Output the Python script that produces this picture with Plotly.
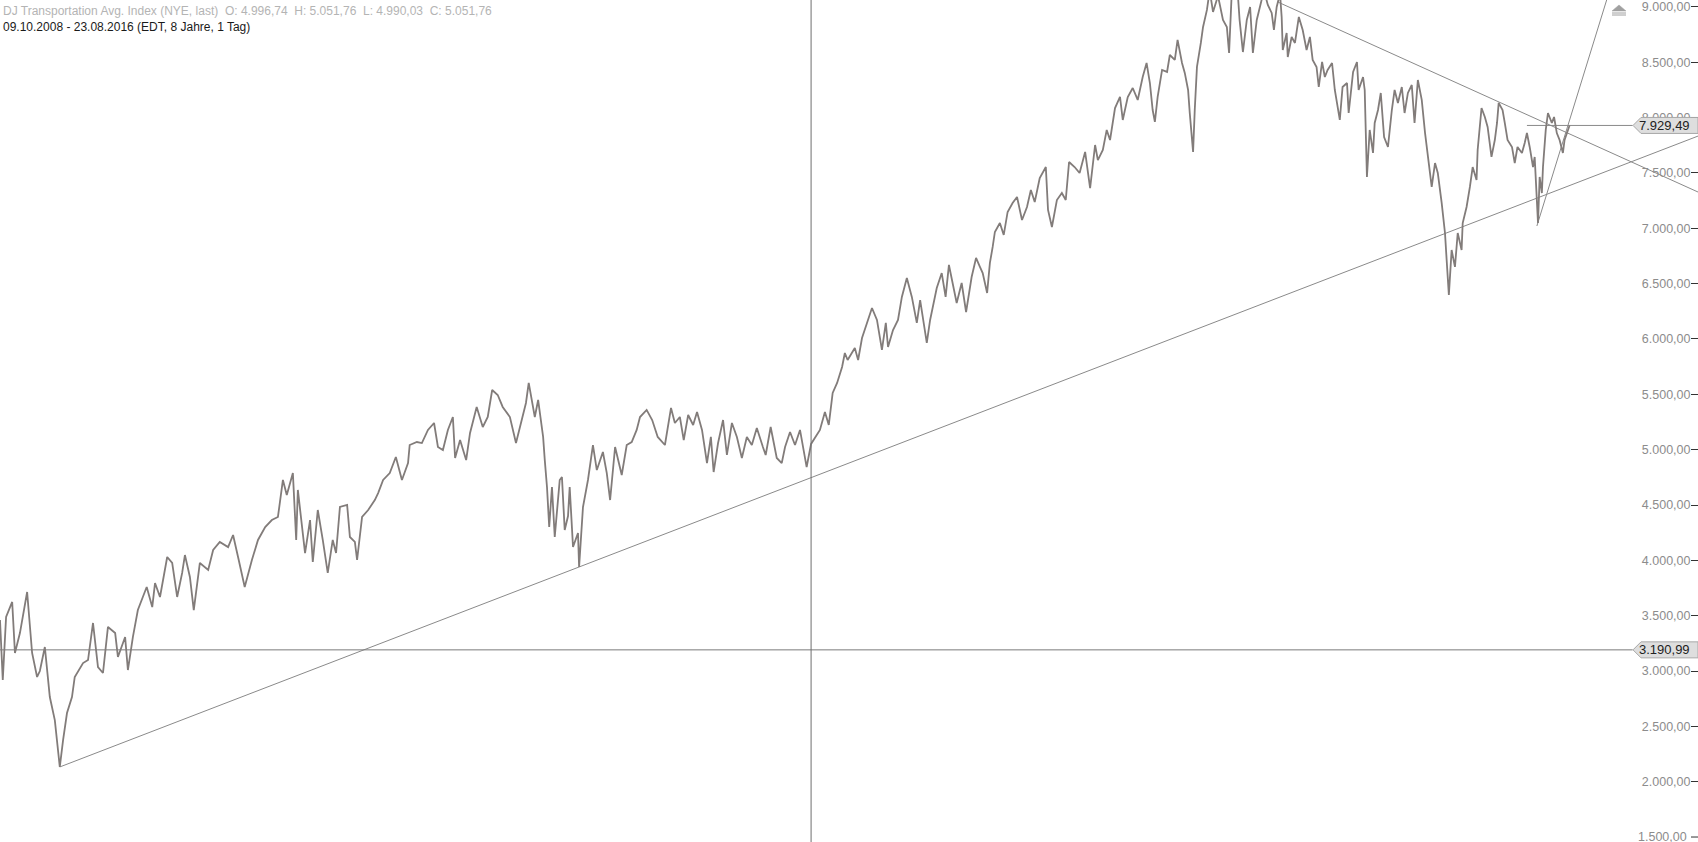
import pandas as pd
import plotly.graph_objects as go

# ---------------- data ----------------
base_date = "2008-11-18"
day_offsets = [0, 5, 11, 22, 27, 36, 49, 58, 67, 72, 81, 90, 99, 108, 114, 121, 130, 135, 150, 159, 168, 177, 186, 195, 208, 213, 226, 231, 240, 249, 258, 265, 275, 280, 289, 302, 311, 320, 329, 334, 343, 350, 361, 376, 385, 397, 412, 421, 430, 442, 455, 466, 479, 491, 502, 511, 518, 529, 535, 538, 551, 560, 565, 574, 583, 592, 601, 607, 614, 627, 632, 641, 645, 654, 665, 677, 683, 692, 704, 715, 726, 737, 740, 753, 762, 773, 784, 791, 800, 809, 818, 822, 831, 842, 849, 861, 872, 881, 889, 899, 908, 921, 932, 943, 950, 955, 966, 972, 981, 984, 988, 992, 997, 1002, 1011, 1015, 1020, 1026, 1029, 1035, 1044, 1046, 1053, 1062, 1071, 1078, 1089, 1096, 1102, 1111, 1123, 1132, 1141, 1150, 1156, 1168, 1178, 1188, 1201, 1212, 1219, 1228, 1235, 1243, 1252, 1259, 1268, 1277, 1284, 1289, 1297, 1306, 1313, 1322, 1331, 1340, 1349, 1358, 1367, 1378, 1383, 1392, 1403, 1412, 1418, 1427, 1436, 1445, 1450, 1457, 1465, 1472, 1481, 1490, 1497, 1504, 1512, 1521, 1526, 1531, 1544, 1550, 1557, 1566, 1575, 1584, 1593, 1600, 1604, 1613, 1622, 1629, 1638, 1647, 1656, 1662, 1667, 1674, 1680, 1692, 1701, 1708, 1714, 1721, 1728, 1737, 1745, 1755, 1763, 1770, 1775, 1783, 1788, 1793, 1797, 1806, 1813, 1820, 1829, 1837, 1846, 1855, 1862, 1869, 1878, 1889, 1893, 1900, 1909, 1918, 1925, 1931, 1941, 1950, 1960, 1969, 1978, 1983, 1992, 1999, 2005, 2014, 2023, 2028, 2037, 2046, 2055, 2064, 2071, 2077, 2082, 2086, 2091, 2099, 2108, 2113, 2122, 2127, 2135, 2140, 2146, 2149, 2155, 2158, 2162, 2169, 2173, 2180, 2185, 2191, 2200, 2209, 2216, 2220, 2225, 2234, 2239, 2245, 2252, 2258, 2263, 2270, 2276, 2283, 2290, 2297, 2301, 2306, 2312, 2315, 2317, 2324, 2326, 2333, 2339, 2346, 2353, 2360, 2366, 2371, 2378, 2382, 2388, 2393, 2398, 2406, 2411, 2415, 2420, 2425, 2433, 2436, 2444, 2451, 2454, 2462, 2465, 2469, 2474, 2480, 2483, 2489, 2494, 2500, 2507, 2514, 2519, 2525, 2532, 2537, 2543, 2550, 2555, 2561, 2568, 2574, 2579, 2586, 2592, 2597, 2604, 2610, 2613, 2615, 2617, 2622, 2628, 2633, 2640, 2642, 2649, 2655, 2660, 2667, 2669, 2676, 2682, 2687, 2694, 2700, 2704, 2707, 2714, 2718, 2723, 2731, 2736, 2741, 2749, 2754, 2758, 2763, 2769, 2772, 2776, 2778, 2781, 2785, 2787, 2792, 2796, 2803, 2807, 2812, 2817, 2823, 2826, 2832, 2835]
close_values = [3461, 2919, 3488, 3624, 3163, 3343, 3714, 3163, 2946, 3000, 3217, 2765, 2557, 2133, 2377, 2620, 2765, 2946, 3072, 3099, 3434, 3036, 2982, 3398, 3343, 3127, 3307, 3009, 3307, 3551, 3669, 3759, 3578, 3795, 3669, 4030, 3976, 3669, 3886, 4048, 3850, 3551, 3976, 3913, 4093, 4166, 4120, 4229, 4030, 3759, 4003, 4184, 4301, 4364, 4392, 4726, 4590, 4789, 4184, 4636, 4066, 4364, 3985, 4455, 4184, 3886, 4184, 4066, 4482, 4500, 4211, 4166, 4003, 4392, 4455, 4545, 4608, 4726, 4789, 4934, 4726, 4879, 5042, 5069, 5060, 5178, 5241, 5024, 4997, 5178, 5295, 4925, 5087, 4906, 5151, 5386, 5205, 5295, 5539, 5494, 5386, 5295, 5060, 5268, 5422, 5603, 5295, 5449, 5115, 4906, 4663, 4301, 4663, 4211, 4726, 4753, 4274, 4400, 4663, 4120, 4247, 3940, 4482, 4726, 5042, 4816, 4979, 4789, 4545, 5024, 4771, 5042, 5069, 5178, 5295, 5359, 5268, 5115, 5042, 5377, 5241, 5295, 5087, 5313, 5223, 5341, 5178, 4879, 5115, 4798, 5060, 5268, 4952, 5241, 5115, 4925, 5115, 5042, 5196, 5024, 4952, 5205, 4925, 4879, 5024, 5160, 5042, 5178, 5024, 4843, 5052, 5105, 5178, 5341, 5223, 5512, 5603, 5747, 5873, 5810, 5919, 5810, 6009, 6145, 6280, 6172, 5901, 6145, 5928, 6081, 6172, 6380, 6551, 6380, 6145, 6352, 6199, 5964, 6172, 6461, 6596, 6380, 6669, 6506, 6325, 6506, 6244, 6560, 6732, 6651, 6596, 6416, 6687, 6832, 6967, 7048, 6940, 7148, 7229, 7283, 7075, 7193, 7346, 7238, 7455, 7554, 7166, 7012, 7256, 7319, 7256, 7599, 7554, 7500, 7690, 7364, 7753, 7617, 7708, 7889, 7798, 8087, 8187, 7979, 8187, 8268, 8160, 8367, 8494, 8313, 8069, 7961, 8187, 8431, 8413, 8566, 8521, 8702, 8494, 8404, 8250, 8042, 7690, 8069, 8458, 8675, 8819, 8973, 9150, 8955, 9100, 8883, 8819, 8584, 9150, 9250, 8883, 8593, 8883, 9000, 8584, 8883, 9000, 9150, 9018, 8946, 8792, 9000, 9120, 8910, 8611, 8765, 8548, 8729, 8675, 8910, 8792, 8611, 8729, 8521, 8458, 8277, 8503, 8367, 8431, 8494, 8250, 8133, 7979, 8277, 8313, 8042, 8413, 8503, 8250, 8367, 8250, 7464, 7889, 7681, 7952, 8069, 8223, 7825, 7735, 8069, 8250, 8133, 8277, 8042, 8223, 8295, 7952, 8340, 8160, 7861, 7645, 7374, 7590, 7500, 7229, 6958, 6714, 6533, 6398, 6804, 6651, 6958, 6804, 7048, 7193, 7374, 7554, 7437, 7708, 8087, 8006, 7916, 7645, 7798, 7952, 8133, 8069, 7952, 7798, 7735, 7590, 7735, 7681, 7771, 7861, 7735, 7554, 7645, 7256, 7048, 7464, 7319, 7554, 7889, 8042, 7952, 8006, 7861, 7798, 7681, 7798, 7889, 7929.49]

y_ticks = [1500, 2000, 2500, 3000, 3500, 4000, 4500, 5000, 5500, 6000, 6500, 7000, 7500, 8000, 8500, 9000]

# trendlines: (day offset, value) anchors
trend_support = [(108, 2133), (1046, 3940)]
trend_resist = [(2308, 9045), (3067, 7328)]
trend_steep = [(2776, 7021), (2902, 9063)]

crosshair_day = 1465
crosshair_value = 3190.99
last_value = 7929.49
last_line_start_day = 2758

header_line1 = "DJ Transportation Avg. Index (NYE, last)  O: 4.996,74  H: 5.051,76  L: 4.990,03  C: 5.051,76"
header_line2 = "09.10.2008 - 23.08.2016 (EDT, 8 Jahre, 1 Tag)"

# ---------------- figure ----------------
W, H = 1698, 842
FONT = "Arial, Liberation Sans"
base = pd.Timestamp(base_date)
days_per_px = 1.806
x_end_days = round(W * days_per_px)
label_tip_days = round(1633 * days_per_px)


def d(n):
    return base + pd.Timedelta(days=n)


def extend(p0, p1, until):
    (x0, y0), (x1, y1) = p0, p1
    slope = (y1 - y0) / (x1 - x0)
    return [d(x0), d(until)], [y0, y0 + slope * (until - x0)]


def de_fmt(v):
    return f"{v:,.2f}".replace(",", "X").replace(".", ",").replace("X", ".")


dates = [d(n) for n in day_offsets]

y_lo, y_hi = 1455, 9063
units_per_px = (y_hi - y_lo) / H

fig = go.Figure()

line_col = "#8a8a8a"
sx, sy = extend(trend_support[0], trend_support[1], x_end_days)
fig.add_trace(go.Scatter(x=sx, y=sy, mode="lines", line=dict(color=line_col, width=1), hoverinfo="skip"))
rx, ry = extend(trend_resist[0], trend_resist[1], x_end_days)
fig.add_trace(go.Scatter(x=rx, y=ry, mode="lines", line=dict(color=line_col, width=1), hoverinfo="skip"))
tx, ty = extend(trend_steep[0], trend_steep[1], trend_steep[1][0] + 20)
fig.add_trace(go.Scatter(x=tx, y=ty, mode="lines", line=dict(color=line_col, width=1), hoverinfo="skip"))
fig.add_trace(go.Scatter(x=[d(last_line_start_day), d(label_tip_days)], y=[last_value, last_value],
                         mode="lines", line=dict(color=line_col, width=1), hoverinfo="skip"))
fig.add_trace(go.Scatter(x=[d(0), d(label_tip_days)], y=[crosshair_value, crosshair_value],
                         mode="lines", line=dict(color="#7a7a7a", width=1), hoverinfo="skip"))

# price series
fig.add_trace(go.Scatter(x=dates, y=close_values, mode="lines",
                         line=dict(color="#827c7a", width=1.8), hoverinfo="skip"))

# crosshair vertical
fig.add_shape(type="line", xref="x", yref="paper", x0=d(crosshair_day), x1=d(crosshair_day),
              y0=0, y1=1, line=dict(color="#6f6f6f", width=1))

# price tags
half = 8 * units_per_px
tip = 1633 / W
box_l = 1641 / W
for val in (last_value, crosshair_value):
    path = (f"M {tip} {val} L {box_l} {val + half} L 1 {val + half} "
            f"L 1 {val - half} L {box_l} {val - half} Z")
    fig.add_shape(type="path", xref="paper", yref="y", path=path,
                  fillcolor="#dedede", line=dict(color="#a8a8a8", width=1))
    fig.add_annotation(xref="paper", yref="y", x=1692 / W, y=val, xanchor="right", yanchor="middle",
                       text=de_fmt(val), showarrow=False, font=dict(family=FONT, size=13, color="#222"))

# bottom tick label (plotly hides it at the edge)
fig.add_annotation(xref="paper", yref="y", x=1689 / W, y=y_ticks[0], xanchor="right", yanchor="middle",
                   text=de_fmt(y_ticks[0]), showarrow=False,
                   font=dict(family=FONT, size=12.5, color="#8c8c8c"))
fig.add_shape(type="line", xref="paper", yref="y", x0=1691 / W, x1=1, y0=y_ticks[0], y1=y_ticks[0],
              line=dict(color="#333", width=1))


def py(pix):
    return 1 - pix / H


# small scroll icon top right
ic_l, ic_r = 1612 / W, 1626 / W
ic_m = (ic_l + ic_r) / 2
fig.add_shape(type="path", xref="paper", yref="paper",
              path=f"M {ic_l} {py(11)} L {ic_m} {py(5)} L {ic_r} {py(11)} Z",
              fillcolor="#a0a0a0", line=dict(color="#a0a0a0", width=0.5))
for yy in (13, 15):
    fig.add_shape(type="line", xref="paper", yref="paper", x0=ic_l, x1=ic_r, y0=py(yy), y1=py(yy),
                  line=dict(color="#a0a0a0", width=1))

# header
fig.add_annotation(xref="paper", yref="paper", x=1 / W, y=py(11), xanchor="left", yanchor="middle",
                   text=header_line1, showarrow=False, font=dict(family=FONT, size=12, color="#b4b4b4"))
fig.add_annotation(xref="paper", yref="paper", x=1 / W, y=py(27), xanchor="left", yanchor="middle",
                   text=header_line2, showarrow=False, font=dict(family=FONT, size=12, color="#1a1a1a"))

fig.update_layout(
    width=W, height=H, margin=dict(l=0, r=0, t=0, b=0),
    paper_bgcolor="white", plot_bgcolor="white", showlegend=False,
    separators=",.",
    xaxis=dict(visible=False, range=[d(0), d(x_end_days)], showgrid=False),
    yaxis=dict(range=[y_lo, y_hi], side="right", ticklabelposition="inside", ticks="inside",
               ticklen=7, tickcolor="#333", tickwidth=1, tickvals=y_ticks[1:], tickformat=",.2f",
               showgrid=False, zeroline=False, showline=False,
               tickfont=dict(family=FONT, size=12.5, color="#8c8c8c")),
)

fig.write_html("out.html", config={"displayModeBar": False},
               post_script="document.body.style.margin='0';document.body.style.overflow='hidden';")
